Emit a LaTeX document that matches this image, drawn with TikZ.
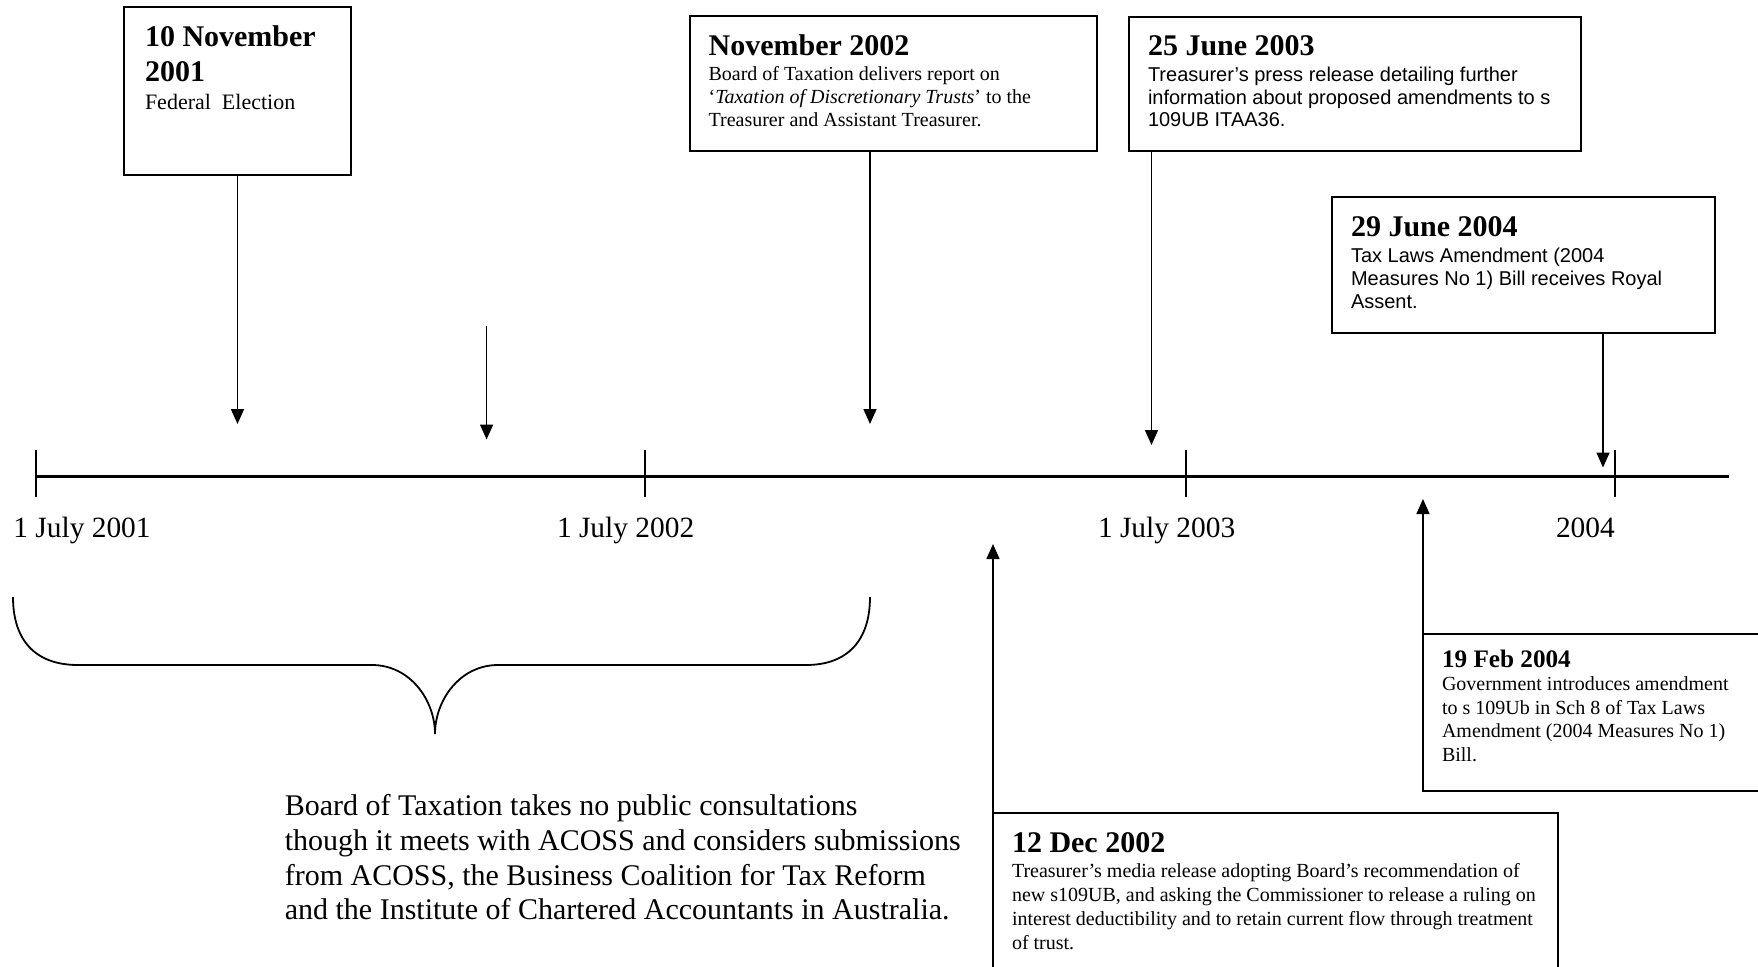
\documentclass[tikz,border=0pt]{standalone}
\usepackage{fontspec}
\setmainfont{Liberation Serif}
\newfontfamily\arialfont{Liberation Sans}
\usetikzlibrary{arrows.meta}

\tikzset{
  evbox/.style={draw, line width=1pt, inner sep=0pt, outer sep=0pt, anchor=north west},
  evtext/.style={anchor=base west, inner sep=0pt, outer sep=0pt},
  pointer/.style={line width=0.8pt, -{Triangle[length=7.5pt,width=6.5pt]}},
  axisline/.style={line width=1.2pt},
  yeartick/.style={line width=0.6pt},
  datelabel/.style={anchor=base, inner sep=0pt, font=\fontsize{14.7}{17}\selectfont},
  bracepath/.style={line width=0.9pt},
}
\newcommand{\evhead}[1]{{\fontsize{15}{17.4}\selectfont\bfseries #1\par}}

\begin{document}
\begin{tikzpicture}[x=0.5pt, y=-0.5pt]
\useasboundingbox (0,0) rectangle (1758,966);
\clip (0,0) rectangle (1758,966);

% ---- event boxes ----
\node[evbox, minimum width=113.5pt, minimum height=84pt] (b1) at (124,7) {};
\node[evbox, minimum width=203.5pt, minimum height=67.85pt] (b2) at (689.5,15.7) {};
\node[evbox, minimum width=226pt, minimum height=67.3pt] (b3) at (1129,16.8) {};
\node[evbox, minimum width=191.5pt, minimum height=68pt] (b4) at (1332,197) {};
\node[evbox, minimum width=180pt, minimum height=78.5pt] (b5) at (1423,633.5) {};
\node[evbox, minimum width=282.5pt, minimum height=88.5pt] (b6) at (993,813) {};

% ---- box texts ----
\node[evtext] (t1) at (145,46.5) {\parbox[t]{300pt}{\raggedright
  \evhead{10 November\\2001}
  {\fontsize{11}{14}\selectfont Federal\ \ Election\par}}};

\node[evtext] (t2) at (708.6,55.7) {\parbox[t]{300pt}{\raggedright
  \evhead{November 2002}\vspace{0.85pt}
  {\fontsize{10}{11.5}\selectfont Board of Taxation delivers report on\\
  ‘\textit{Taxation of Discretionary Trusts}’ to the\\
  Treasurer and Assistant Treasurer.\par}}};

\node[evtext] (t3) at (1148,55.7) {\parbox[t]{300pt}{\raggedright
  \evhead{25 June 2003}\vspace{1.8pt}
  {\arialfont\fontsize{10}{11.2}\selectfont Treasurer’s press release detailing further\\
  information about proposed amendments to s\\
  109UB ITAA36.\par}}};

\node[evtext] (t4) at (1351,236) {\parbox[t]{300pt}{\raggedright
  \evhead{29 June 2004}\vspace{1.5pt}
  {\arialfont\fontsize{10}{11.5}\selectfont Tax Laws Amendment (2004\\
  Measures No 1) Bill receives Royal\\
  Assent.\par}}};

\node[evtext] (t5) at (1442,667) {\parbox[t]{300pt}{\raggedright
  {\fontsize{12.6}{14}\selectfont\bfseries 19 Feb 2004\par}
  {\fontsize{10}{11.75}\selectfont Government introduces amendment\\
  to s 109Ub in Sch 8 of Tax Laws\\
  Amendment (2004 Measures No 1)\\
  Bill.\par}}};

\node[evtext] (t6) at (1012,852) {\parbox[t]{400pt}{\raggedright
  \evhead{12 Dec 2002}\vspace{0.4pt}
  {\fontsize{10}{12.1}\selectfont Treasurer’s media release adopting Board’s recommendation of\\
  new s109UB, and asking the Commissioner to release a ruling on\\
  interest deductibility and to retain current flow through treatment\\
  of trust.\par}}};

% ---- consultation note ----
\node[evtext] (note) at (284.8,815.5) {\parbox[t]{400pt}{\raggedright
  \fontsize{15}{17.4}\selectfont Board of Taxation takes no public consultations\\
  though it meets with ACOSS and considers submissions\\
  from ACOSS, the Business Coalition for Tax Reform\\
  and the Institute of Chartered Accountants in Australia.\par}};

% ---- time axis ----
\coordinate (axL) at (36,476.5);
\coordinate (axR) at (1729,476.5);
\draw[axisline] (axL) -- (axR);
\foreach \tx in {36,645,1186,1615}
  \draw[yeartick] (\tx,450) -- (\tx,497);

\node[datelabel] (d1) at (82,537.5) {1 July 2001};
\node[datelabel] (d2) at (625.6,537.5) {1 July 2002};
\node[datelabel] (d3) at (1166.6,537.5) {1 July 2003};
\node[datelabel] (d4) at (1585.4,537.5) {2004};

% ---- pointers onto the axis ----
\coordinate (e1) at (237.5,424);
\coordinate (s2) at (486.6,326);
\coordinate (e2) at (486.6,439.5);
\coordinate (e3) at (870,424);
\coordinate (e4) at (1151.5,445);
\coordinate (e5) at (1603,467.5);
\coordinate (e6) at (1423,499);
\coordinate (e7) at (993,544);

\draw[pointer] (b1.south) -- (e1);
\draw[pointer] (s2) -- (e2);
\draw[pointer] (e3 |- b2.south) -- (e3);
\draw[pointer] (e4 |- b3.south) -- (e4);
\draw[pointer] (e5 |- b4.south) -- (e5);
\draw[pointer] (b5.north west) -- (e6);
\draw[pointer] (b6.north west) -- (e7);

% ---- brace spanning the consultation period ----
\draw[bracepath] (13,597) .. controls (13,640) and (35,665) .. (78,665)
  -- (372,665) .. controls (410,665) and (435,700) .. (435,734)
  .. controls (435,700) and (460,665) .. (498,665)
  -- (806,665) .. controls (848,665) and (870,640) .. (870,597);
\end{tikzpicture}
\end{document}
